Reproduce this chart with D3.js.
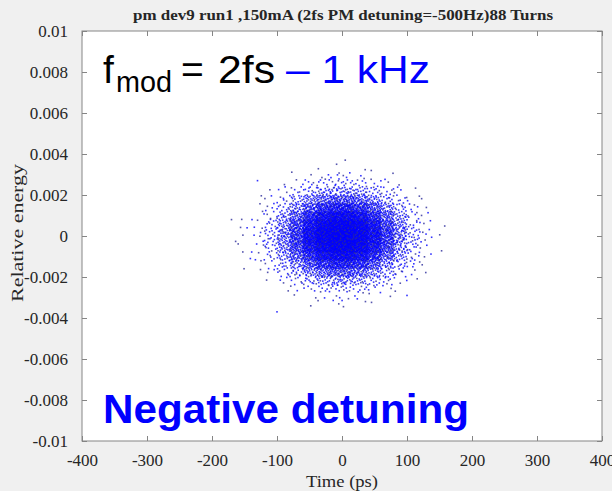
<!DOCTYPE html>
<html>
<head>
<meta charset="utf-8">
<script src="https://cdn.jsdelivr.net/npm/d3@7"></script>
<style>
  body { margin: 0; background: #f0f0f0; }
  svg { display: block; }
</style>
</head>
<body>
<div id="chart-area"></div>
<script>
const width = 612;
const height = 491;

const title = "pm dev9 run1 ,150mA (2fs PM detuning=-500Hz)88 Turns";
const xTicks = [-400, -300, -200, -100, 0, 100, 200, 300, 400];
const yTicks = [-0.01, -0.008, -0.006, -0.004, -0.002, 0, 0.002, 0.004, 0.006, 0.008, 0.01];

// scatter cloud read off the picture as dot counts per cell
// time bin edges (ps), left to right
const timeEdges = [-180, -160, -140, -120, -100, -80, -60, -40, -20, 0, 20, 40, 60, 80, 100, 120, 140, 160, 180];
// energy bin edges, top to bottom
const energyEdges = [0.0036, 0.0032, 0.0028, 0.0024, 0.002, 0.0016, 0.0012, 0.0008, 0.0004, 0,
  -0.0004, -0.0008, -0.0012, -0.0016, -0.002, -0.0024, -0.0028, -0.0032, -0.0036];
const cellCounts = [
  [0, 0, 0, 0, 0, 0, 0, 1, 1, 0, 1, 0, 0, 0, 0, 0, 0, 0],
  [0, 0, 0, 0, 0, 1, 1, 2, 3, 3, 2, 1, 1, 0, 0, 0, 0, 0],
  [0, 0, 0, 0, 1, 2, 4, 6, 7, 7, 6, 4, 2, 1, 0, 0, 0, 0],
  [0, 0, 0, 1, 3, 6, 10, 16, 19, 19, 16, 10, 6, 3, 1, 0, 0, 0],
  [0, 0, 1, 2, 6, 12, 23, 34, 42, 42, 34, 23, 12, 6, 2, 1, 0, 0],
  [0, 0, 1, 4, 10, 23, 43, 65, 79, 79, 65, 43, 23, 10, 4, 1, 0, 0],
  [0, 1, 2, 6, 17, 38, 69, 104, 127, 127, 104, 69, 38, 17, 6, 2, 0, 0],
  [0, 1, 2, 8, 23, 52, 95, 142, 174, 174, 142, 95, 52, 23, 8, 2, 1, 0],
  [0, 1, 3, 10, 27, 60, 111, 167, 204, 204, 167, 111, 60, 27, 10, 3, 1, 0],
  [1, 1, 3, 10, 27, 60, 111, 167, 204, 204, 167, 111, 60, 27, 10, 3, 0, 0],
  [0, 1, 2, 8, 23, 52, 95, 142, 174, 174, 142, 95, 52, 23, 8, 2, 1, 0],
  [0, 0, 2, 6, 17, 38, 69, 104, 127, 127, 104, 69, 38, 17, 6, 2, 0, 0],
  [0, 1, 1, 4, 10, 23, 43, 65, 79, 79, 65, 43, 23, 10, 4, 1, 0, 0],
  [0, 0, 1, 2, 6, 12, 23, 34, 42, 42, 34, 23, 12, 6, 2, 1, 0, 0],
  [0, 0, 0, 1, 3, 6, 10, 16, 19, 19, 16, 10, 6, 3, 1, 0, 0, 0],
  [0, 0, 0, 0, 1, 2, 4, 6, 7, 7, 6, 4, 2, 1, 0, 0, 0, 0],
  [0, 0, 0, 0, 0, 1, 1, 2, 3, 3, 2, 1, 1, 0, 0, 0, 0, 0],
  [0, 0, 0, 0, 0, 0, 1, 0, 1, 1, 0, 1, 0, 0, 0, 0, 0, 0]
];
// isolated points far from the cloud [time, energy]
const outliers = [
  [-170, 0.0008], [-130, 0.0027], [-146, 0.0004], [-141, -0.0011],
  [-100, -0.0037], [5, 0.0037], [100, -0.0029], [109, -0.0015]
];

const svg = d3.select("#chart-area")
  .append("svg")
  .attr("width", width)
  .attr("height", height);

svg.append("rect").attr("width", width).attr("height", height).attr("fill", "#f0f0f0");

const x = d3.scaleLinear().domain([-400, 400]).range([82, 602]);
const y = d3.scaleLinear().domain([-0.01, 0.01]).range([441, 31]);

svg.append("rect")
  .attr("x", x(-400)).attr("y", y(0.01))
  .attr("width", x(400) - x(-400)).attr("height", y(-0.01) - y(0.01))
  .attr("fill", "white");

// place dots inside each cell on a Halton sequence (even fill, no randomness)
function halton(i, b) {
  let f = 1, r = 0;
  while (i > 0) { f /= b; r += f * (i % b); i = Math.floor(i / b); }
  return r;
}

const dots = [];
cellCounts.forEach((row, ri) => {
  row.forEach((n, ci) => {
    const off = (ri * 18 + ci) * 53 + 1;
    for (let k = 0; k < n; k++) {
      const u = halton(k + off, 2), v = halton(k + off, 3);
      dots.push({
        t: timeEdges[ci] + u * (timeEdges[ci + 1] - timeEdges[ci]),
        e: energyEdges[ri + 1] + v * (energyEdges[ri] - energyEdges[ri + 1]),
        k: k
      });
    }
  });
});
outliers.forEach((p, i) => dots.push({t: p[0], e: p[1], k: i}));

svg.append("g")
  .selectAll("rect")
  .data(dots)
  .enter().append("rect")
  .attr("x", d => x(d.t) - 0.8)
  .attr("y", d => y(d.e) - 0.8)
  .attr("width", 1.6)
  .attr("height", 1.6)
  .attr("fill", d => d.k % 5 === 0 ? "#2a2a9a" : "#0000ff")
  .attr("opacity", 0.8);

// axes, ticks pointing inward on all four sides
const serif = "'Liberation Serif', 'Times New Roman', serif";

const axisB = svg.append("g")
  .attr("transform", `translate(0,${y(-0.01)})`)
  .call(d3.axisBottom(x).tickValues(xTicks).tickSize(-5).tickPadding(13).tickFormat(d => String(d)));
const axisT = svg.append("g")
  .attr("transform", `translate(0,${y(0.01)})`)
  .call(d3.axisTop(x).tickValues(xTicks).tickSize(-5).tickFormat(""));
const axisL = svg.append("g")
  .attr("transform", `translate(${x(-400)},0)`)
  .call(d3.axisLeft(y).tickValues(yTicks).tickSize(-5).tickPadding(14).tickFormat(d => String(d)));
const axisR = svg.append("g")
  .attr("transform", `translate(${x(400)},0)`)
  .call(d3.axisRight(y).tickValues(yTicks).tickSize(-5).tickFormat(""));

[axisB, axisT, axisL, axisR].forEach(g => {
  g.select(".domain").remove();
  g.selectAll("line").attr("stroke", "#858585");
  g.selectAll("text")
    .attr("fill", "#262626")
    .attr("font-family", serif)
    .style("font-family", serif)
    .style("font-size", "17px");
});

svg.append("rect")
  .attr("x", x(-400)).attr("y", y(0.01))
  .attr("width", x(400) - x(-400)).attr("height", y(-0.01) - y(0.01))
  .attr("fill", "none")
  .attr("stroke", "#858585")
  .attr("stroke-width", 1);

svg.append("text")
  .attr("x", 343).attr("y", 20)
  .attr("text-anchor", "middle")
  .attr("textLength", 420).attr("lengthAdjust", "spacingAndGlyphs")
  .style("font-family", serif).style("font-weight", "bold").style("font-size", "14.5px")
  .attr("fill", "#262626")
  .text(title);

svg.append("text")
  .attr("x", 342).attr("y", 487)
  .attr("text-anchor", "middle")
  .attr("textLength", 72).attr("lengthAdjust", "spacingAndGlyphs")
  .style("font-family", serif).style("font-size", "17px")
  .attr("fill", "#262626")
  .text("Time (ps)");

svg.append("text")
  .attr("transform", "translate(23,233) rotate(-90)")
  .attr("text-anchor", "middle")
  .attr("textLength", 138).attr("lengthAdjust", "spacingAndGlyphs")
  .style("font-family", serif).style("font-size", "17.5px")
  .attr("fill", "#262626")
  .text("Relative energy");

// annotations
const sans = "'Liberation Sans', Arial, sans-serif";
svg.append("text").attr("x", 103).attr("y", 83)
  .style("font-family", sans).style("font-size", "39px").text("f");
svg.append("text").attr("x", 116).attr("y", 92)
  .style("font-family", sans).style("font-size", "30px")
  .attr("textLength", 56).attr("lengthAdjust", "spacingAndGlyphs").text("mod");
svg.append("text").attr("x", 181).attr("y", 83)
  .style("font-family", sans).style("font-size", "39px").text("=");
svg.append("text").attr("x", 218).attr("y", 83)
  .style("font-family", sans).style("font-size", "39px")
  .attr("textLength", 57).attr("lengthAdjust", "spacingAndGlyphs").text("2fs");
svg.append("text").attr("x", 286).attr("y", 83)
  .style("font-family", sans).style("font-size", "39px").attr("fill", "#0000ff")
  .attr("textLength", 144).attr("lengthAdjust", "spacingAndGlyphs").text("\u2013 1 kHz");

svg.append("text").attr("x", 103).attr("y", 423)
  .style("font-family", sans).style("font-size", "40px").style("font-weight", "bold")
  .attr("fill", "#0000ff")
  .attr("textLength", 366).attr("lengthAdjust", "spacingAndGlyphs")
  .text("Negative detuning");
</script>
</body>
</html>
